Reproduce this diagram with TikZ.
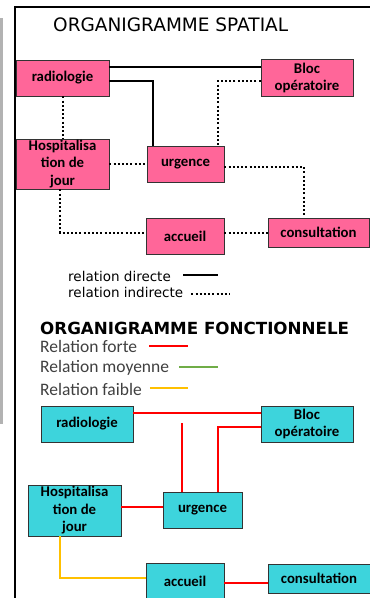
\documentclass[tikz,border=0pt]{standalone}
\usepackage{fontspec}
\setmainfont{Carlito}
\newfontfamily\titlefont{DejaVu Sans}
\usetikzlibrary{shapes,arrows}

\definecolor{rosesalle}{HTML}{FF6699}
\definecolor{cyansalle}{HTML}{3DD4DC}
\definecolor{vertmoyen}{HTML}{70AD47}
\definecolor{jaunefaible}{HTML}{FFC000}
\definecolor{gristexte}{HTML}{404040}

\tikzset{
  salle/.style={draw=black!80, line width=0.9pt, inner sep=0pt, align=center,
    font=\bfseries\fontsize{14.8}{17.5}\selectfont},
  spatial/.style={salle, fill=rosesalle},
  fonction/.style={salle, fill=cyansalle},
  direct/.style={line width=2.3pt, black},
  indirect/.style={line width=2pt, black, dash pattern=on 2pt off 2.2pt},
  forte/.style={line width=2.3pt, red},
  moyenne/.style={line width=2.3pt, vertmoyen},
  faible/.style={line width=2.3pt, jaunefaible},
  titre/.style={anchor=west, inner sep=0pt, font=\titlefont\fontsize{18.5}{20}\selectfont},
  legende/.style={anchor=west, inner sep=0pt, font=\titlefont\fontsize{13.5}{15}\selectfont},
  legendefct/.style={anchor=west, inner sep=0pt, text=gristexte, font=\fontsize{17.5}{19}\selectfont}
}

\begin{document}
\begin{tikzpicture}[x=1pt, y=-1pt]
\useasboundingbox (0,0) rectangle (370,598);
% page frame
\draw [line width=2.5pt, black!30] (1.5,18) -- (1.5,424);
\draw [line width=1.5pt, black] (15,598) -- (15,7) -- (370,7);

% ---- spatial chart ----
\node[titre] (titrespa) at (53,25) {ORGANIGRAMME SPATIAL};
\node[spatial, minimum width=93pt, minimum height=36pt] (radio1) at (62.5,78) {radiologie};
\node[spatial, minimum width=92pt, minimum height=37pt] (bloc1) at (307,78) {Bloc\\op\'eratoire};
\node[spatial, minimum width=93pt, minimum height=50pt] (hosp1) at (62.5,164) {Hospitalisa\\tion de\\jour};
\node[spatial, minimum width=77pt, minimum height=36pt] (urg1) at (185.5,164) {urgence};
\node[spatial, minimum width=78pt, minimum height=36pt] (acc1) at (185,236) {accueil};
\node[spatial, minimum width=101pt, minimum height=29pt] (cons1) at (318.5,232.5) {consultation};
% direct relations
\draw [direct] ([yshift=11pt]radio1.east) -- ([yshift=11pt]radio1.east -| bloc1.west);
\draw [direct] ([yshift=-3pt]radio1.east) -| ([xshift=-32.5pt]urg1.north);
% indirect relations
\draw [indirect] (radio1.south) -- (hosp1.north);
\draw [indirect] ([yshift=-3pt]bloc1.west) -| ([xshift=32.5pt]urg1.north);
\draw [indirect] (hosp1.east) -- (urg1.west);
\draw [indirect] ([yshift=-3pt]urg1.east) -| ([xshift=-14.5pt]cons1.north);
\draw [indirect] ([xshift=-2.5pt]hosp1.south) |- ([yshift=3pt]acc1.west);
\draw [indirect] ([yshift=3pt]acc1.east) -- ([yshift=3pt]acc1.east -| cons1.west);
% legend
\node[legende] (legdir) at (68,276) {relation directe};
\node[legende] (legind) at (68,292) {relation indirecte};
\draw [direct] ([xshift=12pt, yshift=1pt]legdir.east) -- ++(35,0);
\draw [indirect] ([xshift=8pt, yshift=-2pt]legind.east) -- ++(39,0);

% ---- functional chart ----
\node[titre, font=\titlefont\bfseries\fontsize{16.7}{18}\selectfont] (titrefct) at (40,328) {ORGANIGRAMME FONCTIONNELE};
\node[legendefct] (legforte) at (40,346) {Relation forte};
\node[legendefct] (legmoy) at (40,368) {Relation moyenne};
\node[legendefct] (legfaible) at (40,389) {Relation faible};
\draw [forte] ([xshift=12pt]legforte.east) -- ++(39,0);
\draw [moyenne] ([xshift=10pt, yshift=1pt]legmoy.east) -- ++(39,0);
\draw [faible] ([xshift=8pt, yshift=1pt]legfaible.east) -- ++(38,0);

\node[fonction, minimum width=92pt, minimum height=36pt] (radio2) at (87,424) {radiologie};
\node[fonction, minimum width=92pt, minimum height=36pt] (bloc2) at (307,424) {Bloc\\op\'eratoire};
\node[fonction, minimum width=93pt, minimum height=51pt] (hosp2) at (74.5,510.5) {Hospitalisa\\tion de\\jour};
\node[fonction, minimum width=79pt, minimum height=36pt] (urg2) at (202.5,510) {urgence};
\node[fonction, minimum width=78pt, minimum height=36pt] (acc2) at (185,581) {accueil};
\node[fonction, minimum width=102pt, minimum height=29pt] (cons2) at (319,578.5) {consultation};
\coordinate (amorce) at (182,423);
% strong relations
\draw [forte] ([yshift=11pt]radio2.east) -- ([yshift=11pt]radio2.east -| bloc2.west);
\draw [forte] (amorce) -- (amorce |- urg2.north);
\draw [forte] ([yshift=-3pt]bloc2.west) -| ([xshift=15.5pt]urg2.north);
\draw [forte] ([yshift=3.5pt]hosp2.east) -- ([yshift=3.5pt]hosp2.east -| urg2.west);
\draw [forte] ([yshift=-2pt]acc2.east) -- ([yshift=-2pt]acc2.east -| cons2.west);
% weak relation
\draw [faible] ([xshift=-14.5pt]hosp2.south) |- ([yshift=3pt]acc2.west);
\end{tikzpicture}
\end{document}
